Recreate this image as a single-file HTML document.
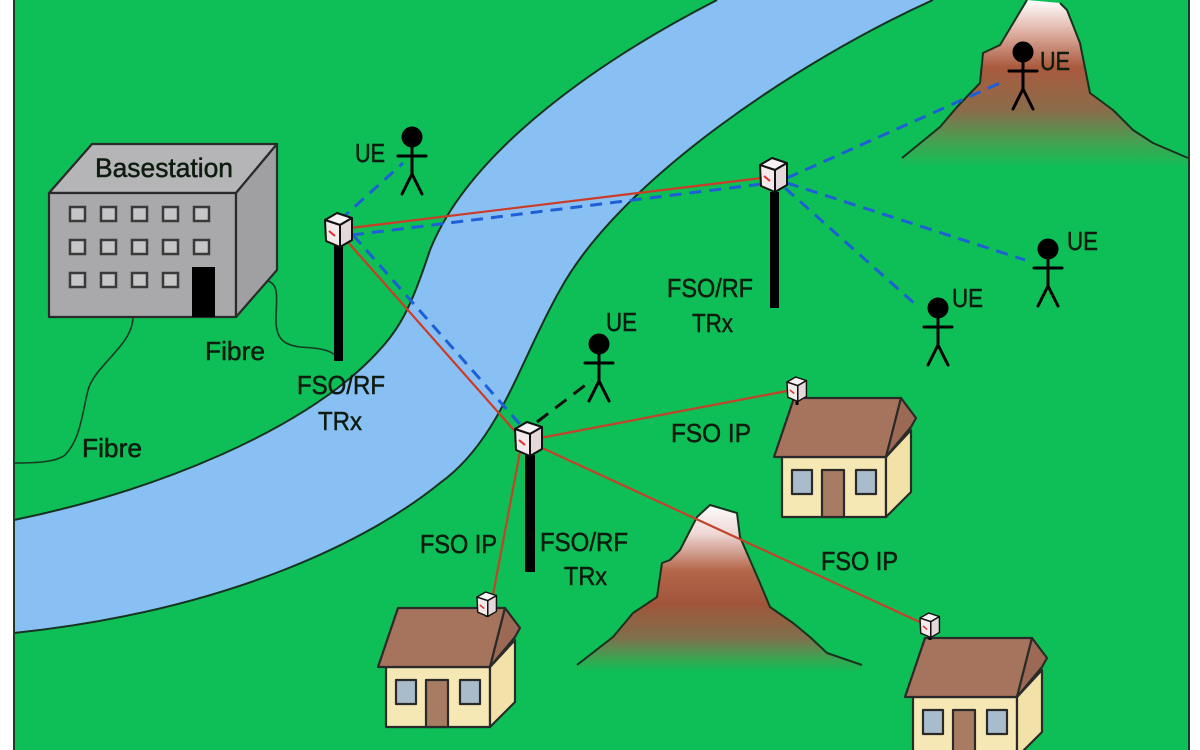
<!DOCTYPE html>
<html><head><meta charset="utf-8">
<style>html,body{margin:0;padding:0;background:#fff;}svg{display:block}</style>
</head>
<body>
<svg width="1200" height="750" viewBox="0 0 1200 750" xmlns="http://www.w3.org/2000/svg">
<defs>
<linearGradient id="m1" gradientUnits="userSpaceOnUse" x1="0" y1="0" x2="0" y2="168">
 <stop offset="0" stop-color="#ffffff"/>
 <stop offset="0.16" stop-color="#e6bdb2"/>
 <stop offset="0.4" stop-color="#aa5a3e"/>
 <stop offset="0.66" stop-color="#8a6c4a"/>
 <stop offset="0.86" stop-color="#3fa552"/>
 <stop offset="1" stop-color="#0dbf56"/>
</linearGradient>
<linearGradient id="m2" gradientUnits="userSpaceOnUse" x1="0" y1="503" x2="0" y2="672">
 <stop offset="0" stop-color="#ffffff"/>
 <stop offset="0.18" stop-color="#efd8d6"/>
 <stop offset="0.4" stop-color="#b4664a"/>
 <stop offset="0.6" stop-color="#a0553a"/>
 <stop offset="0.8" stop-color="#80704c"/>
 <stop offset="0.93" stop-color="#35a852"/>
 <stop offset="1" stop-color="#0dbf56"/>
</linearGradient>
<g id="cube" stroke="#111" stroke-width="2" stroke-linejoin="round">
 <polygon points="0,7 12,0 27,5 15,12" fill="#f7f2f3"/>
 <polygon points="0,7 15,12 15,34 1,28" fill="#f4eaec"/>
 <polygon points="15,12 27,5 27,27 15,34" fill="#e4d8db"/>
 <line x1="4" y1="18" x2="10" y2="23" stroke="#e02a2a" stroke-width="2"/>
</g>
<g id="house" stroke="#2a2a2a" stroke-width="2.2" stroke-linejoin="round">
 <rect x="0" y="0" width="104" height="60" fill="#f6e8b4"/>
 <polygon points="104,0 129,-27 129,35 104,60" fill="#f3e2a8"/>
 <polygon points="-8,0 12,-59 119,-59 104,0" fill="#a6735c"/>
 <polygon points="119,-59 134,-39 129,-30 104,0" fill="#9c6a54"/>
 <rect x="10" y="13" width="20" height="24" fill="#a9bccb"/>
 <rect x="74" y="13" width="20" height="24" fill="#a9bccb"/>
 <rect x="40" y="13" width="22" height="47" fill="#a87c62"/>
</g>
<g id="person" stroke="#000" stroke-width="3" fill="none" stroke-linecap="round">
 <circle cx="0" cy="0" r="9" fill="#000"/>
 <line x1="0" y1="8" x2="0" y2="38"/>
 <line x1="-14" y1="19" x2="14" y2="19"/>
 <line x1="0" y1="37" x2="-10" y2="57"/>
 <line x1="0" y1="37" x2="10" y2="57"/>
</g>
</defs>

<rect x="0" y="0" width="1200" height="750" fill="#ffffff"/>
<rect x="14" y="0" width="1175" height="750" fill="#0dbf56"/>

<!-- river -->
<path d="M717,0 C600,60 470,150 430,250 C410,310 400,330 370,360 C300,430 160,490 14,520 L14,633 C230,610 370,540 440,483 C500,440 520,360 560,290 C620,180 800,60 933,0 Z" fill="#88c0f4"/>
<path d="M717,0 C600,60 470,150 430,250 C410,310 400,330 370,360 C300,430 160,490 14,520" fill="none" stroke="#17321f" stroke-width="2"/>
<path d="M14,633 C230,610 370,540 440,483 C500,440 520,360 560,290 C620,180 800,60 933,0" fill="none" stroke="#17321f" stroke-width="2"/>

<line x1="14" y1="0" x2="14" y2="750" stroke="#1e3b28" stroke-width="2"/>
<line x1="1189" y1="0" x2="1189" y2="750" stroke="#1e3b28" stroke-width="2"/>

<!-- mountains -->
<path d="M902,158 L940,127 L957,107 L980,83 L983,53 L1000,45 L1027,0 L1060,3 L1067,10 L1080,43 L1090,93 L1113,110 L1133,130 L1153,143 L1188,158 L1188,170 L902,170 Z" fill="url(#m1)"/>
<polyline points="902,158 940,127 957,107 980,83 983,53 1000,45 1027,0" fill="none" stroke="#17321f" stroke-width="2" stroke-linejoin="round"/>
<polyline points="1060,3 1067,10 1080,43 1090,93 1113,110 1133,130 1153,143 1188,158" fill="none" stroke="#17321f" stroke-width="2" stroke-linejoin="round"/>

<path d="M577,665 L613,637 L633,613 L657,597 L662,563 L670,560 L680,550 L697,517 L710,505 L737,513 L740,537 L760,583 L770,607 L793,623 L810,637 L827,653 L862,665 L862,672 L577,672 Z" fill="url(#m2)"/>
<polyline points="577,665 613,637 633,613 657,597 662,563 670,560 680,550 697,517 710,505 737,513 740,537 760,583 770,607 793,623 810,637 827,653 862,665" fill="none" stroke="#17321f" stroke-width="2" stroke-linejoin="round"/>

<!-- fibre -->
<path d="M133,317 C133,345 95,365 88,390 C82,415 80,440 65,455 C55,463 30,463 14,463" fill="none" stroke="#173a22" stroke-width="1.6"/>
<path d="M268,281 C280,285 276,300 276,320 C276,340 285,345 300,347 C320,348 330,350 336,356" fill="none" stroke="#173a22" stroke-width="1.6"/>

<!-- building -->
<g stroke="#2a2a2a" stroke-width="2.2" stroke-linejoin="round">
 <polygon points="49,193 92,144 277,144 236,193" fill="#b5b5b7"/>
 <rect x="49" y="193" width="187" height="124" fill="#a9a9ab"/>
 <polygon points="236,193 277,144 277,270 236,317" fill="#a0a0a2"/>
</g>
<g stroke="#3a3a3a" stroke-width="2.5" fill="#c6c6c8">
 <rect x="70" y="207" width="15" height="14"/><rect x="101" y="207" width="15" height="14"/><rect x="132" y="207" width="15" height="14"/><rect x="163" y="207" width="15" height="14"/><rect x="194" y="207" width="15" height="14"/>
 <rect x="70" y="240" width="15" height="14"/><rect x="101" y="240" width="15" height="14"/><rect x="132" y="240" width="15" height="14"/><rect x="163" y="240" width="15" height="14"/><rect x="194" y="240" width="15" height="14"/>
 <rect x="70" y="273" width="15" height="14"/><rect x="101" y="273" width="15" height="14"/><rect x="132" y="273" width="15" height="14"/><rect x="163" y="273" width="15" height="14"/>
</g>
<rect x="192" y="267" width="23" height="50" fill="#000"/>

<!-- houses -->
<use href="#house" transform="translate(782,457)"/>
<use href="#house" transform="translate(386,667)"/>
<use href="#house" transform="translate(913,697)"/>

<!-- poles -->
<rect x="334" y="245" width="9" height="116" fill="#000"/>
<rect x="770" y="192" width="9" height="116" fill="#000"/>
<rect x="525" y="455" width="10" height="117" fill="#000"/>
<line x1="797" y1="398" x2="797" y2="405" stroke="#000" stroke-width="3"/>
<line x1="487" y1="610" x2="487" y2="617" stroke="#000" stroke-width="3"/>
<line x1="930" y1="632" x2="930" y2="640" stroke="#000" stroke-width="3"/>

<!-- links -->
<g fill="none" stroke-linecap="butt">
 <line x1="350" y1="228" x2="762" y2="178" stroke="#cc3b28" stroke-width="2.2"/>
 <line x1="352" y1="235" x2="762" y2="184" stroke="#1f5fd6" stroke-width="3" stroke-dasharray="12 8"/>
 <line x1="346" y1="240" x2="520" y2="437" stroke="#cc3b28" stroke-width="2.2"/>
 <line x1="353" y1="235" x2="525" y2="430" stroke="#1f5fd6" stroke-width="3" stroke-dasharray="12 8"/>
 <line x1="340" y1="220" x2="403" y2="163" stroke="#1f5fd6" stroke-width="3" stroke-dasharray="12 8"/>
 <line x1="540" y1="438" x2="792" y2="390" stroke="#c3422a" stroke-width="2.2"/>
 <line x1="540" y1="447" x2="924" y2="624" stroke="#c3422a" stroke-width="2.2"/>
 <line x1="520" y1="452" x2="492" y2="600" stroke="#c3422a" stroke-width="2.2"/>
 <line x1="537" y1="422" x2="592" y2="380" stroke="#111" stroke-width="3" stroke-dasharray="14 9"/>
 <line x1="787" y1="178" x2="1000" y2="83" stroke="#1f5fd6" stroke-width="3" stroke-dasharray="12 8"/>
 <line x1="787" y1="183" x2="1025" y2="260" stroke="#1f5fd6" stroke-width="3" stroke-dasharray="12 8"/>
 <line x1="785" y1="188" x2="915" y2="304" stroke="#1f5fd6" stroke-width="3" stroke-dasharray="12 8"/>
</g>

<!-- transceivers -->
<use href="#cube" transform="translate(325,213)"/>
<use href="#cube" transform="translate(760,158)"/>
<use href="#cube" transform="translate(515,422)"/>
<use href="#cube" transform="translate(787,377) scale(0.72)"/>
<use href="#cube" transform="translate(477,592) scale(0.72)"/>
<use href="#cube" transform="translate(920,613) scale(0.72)"/>

<!-- people -->
<use href="#person" transform="translate(412,137)"/>
<use href="#person" transform="translate(599,344)"/>
<use href="#person" transform="translate(1023,52)"/>
<use href="#person" transform="translate(1048,249)"/>
<use href="#person" transform="translate(938,308)"/>

<!-- labels -->
<g font-family="'Liberation Sans', Arial, sans-serif" font-size="26" fill="#0e1c10" stroke="#0e1c10" stroke-width="0.5">
 <text x="95" y="177" font-size="27" textLength="138" lengthAdjust="spacingAndGlyphs">Basestation</text>
 <text x="355" y="162" textLength="30" lengthAdjust="spacingAndGlyphs">UE</text>
 <text x="205" y="360" textLength="60" lengthAdjust="spacingAndGlyphs">Fibre</text>
 <text x="82" y="457" textLength="60" lengthAdjust="spacingAndGlyphs">Fibre</text>
 <text x="297" y="394" textLength="88" lengthAdjust="spacingAndGlyphs">FSO/RF</text>
 <text x="318" y="430" textLength="44" lengthAdjust="spacingAndGlyphs">TRx</text>
 <text x="667" y="297" textLength="86" lengthAdjust="spacingAndGlyphs">FSO/RF</text>
 <text x="692" y="332" textLength="41" lengthAdjust="spacingAndGlyphs">TRx</text>
 <text x="606" y="331" textLength="31" lengthAdjust="spacingAndGlyphs">UE</text>
 <text x="671" y="442" textLength="80" lengthAdjust="spacingAndGlyphs">FSO IP</text>
 <text x="540" y="551" textLength="88" lengthAdjust="spacingAndGlyphs">FSO/RF</text>
 <text x="564" y="585" textLength="43" lengthAdjust="spacingAndGlyphs">TRx</text>
 <text x="420" y="553" textLength="77" lengthAdjust="spacingAndGlyphs">FSO IP</text>
 <text x="821" y="570" textLength="77" lengthAdjust="spacingAndGlyphs">FSO IP</text>
 <text x="1040" y="70" textLength="30" lengthAdjust="spacingAndGlyphs">UE</text>
 <text x="1067" y="250" textLength="31" lengthAdjust="spacingAndGlyphs">UE</text>
 <text x="952" y="307" textLength="31" lengthAdjust="spacingAndGlyphs">UE</text>
</g>
</svg>
</body></html>
